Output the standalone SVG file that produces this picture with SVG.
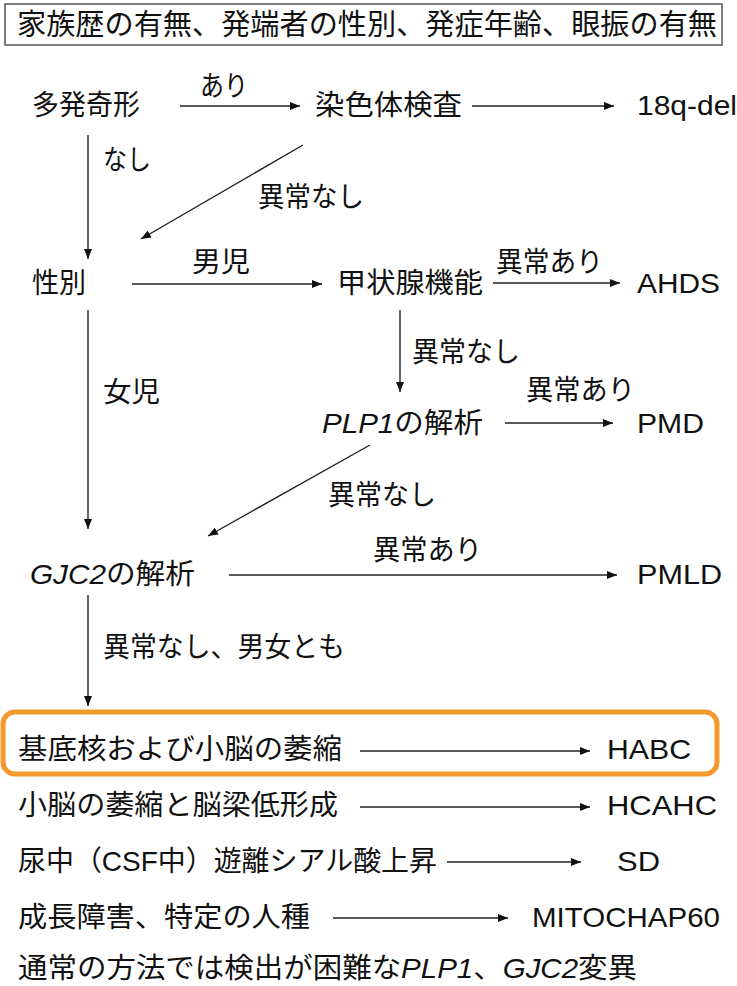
<svg xmlns="http://www.w3.org/2000/svg" width="737" height="986" viewBox="0 0 737 986">
<style>
text{font-family:"Liberation Sans","Noto Sans CJK JP",sans-serif;font-size:28px;fill:#111}
.it{font-style:italic}
.c{stroke:#222;stroke-width:1.4;fill:none;marker-end:url(#ah)}
</style>
<defs>
<marker id="ah" viewBox="0 0 10 8" refX="10" refY="4" markerWidth="10" markerHeight="8" markerUnits="userSpaceOnUse" orient="auto">
<path d="M0,0 L10,4 L0,8 z" fill="#111"/>
</marker>
</defs>
<rect width="737" height="986" fill="#fff"/>
<g id="header">
<rect x="5" y="4" width="717" height="41" fill="#fff" stroke="#555" stroke-width="1.5"/>
<text x="17" y="35" textLength="700" lengthAdjust="spacingAndGlyphs" style="font-size:29px">家族歴の有無、発端者の性別、発症年齢、眼振の有無</text>
</g>
<g id="connectors">
<line class="c" x1="180" y1="106" x2="300" y2="106"/>
<line class="c" x1="472" y1="106" x2="614" y2="106"/>
<line class="c" x1="88" y1="135" x2="88" y2="259"/>
<line class="c" x1="303" y1="145" x2="141" y2="239"/>
<line class="c" x1="132" y1="284" x2="322" y2="284"/>
<line class="c" x1="493" y1="283" x2="620" y2="283"/>
<line class="c" x1="88" y1="310" x2="88" y2="529"/>
<line class="c" x1="400" y1="310" x2="400" y2="392"/>
<line class="c" x1="505" y1="423" x2="613" y2="423"/>
<line class="c" x1="370" y1="445" x2="208" y2="536"/>
<line class="c" x1="229" y1="575" x2="617" y2="575"/>
<line class="c" x1="88" y1="595" x2="88" y2="706"/>
<line class="c" x1="360" y1="751" x2="590" y2="751"/>
<line class="c" x1="360" y1="807" x2="590" y2="807"/>
<line class="c" x1="447" y1="862" x2="581" y2="862"/>
<line class="c" x1="333" y1="918" x2="508" y2="918"/>
</g>
<g id="labels">
<text x="200" y="96" textLength="48" lengthAdjust="spacingAndGlyphs">あり</text>
<text x="103" y="170" textLength="48" lengthAdjust="spacingAndGlyphs">なし</text>
<text x="258" y="207" textLength="106" lengthAdjust="spacingAndGlyphs">異常なし</text>
<text x="192" y="272" textLength="58" lengthAdjust="spacingAndGlyphs">男児</text>
<text x="496" y="272" textLength="107" lengthAdjust="spacingAndGlyphs">異常あり</text>
<text x="103" y="402" textLength="57" lengthAdjust="spacingAndGlyphs">女児</text>
<text x="412" y="362" textLength="108" lengthAdjust="spacingAndGlyphs">異常なし</text>
<text x="526" y="400" textLength="109" lengthAdjust="spacingAndGlyphs">異常あり</text>
<text x="328" y="505" textLength="108" lengthAdjust="spacingAndGlyphs">異常なし</text>
<text x="373" y="560" textLength="109" lengthAdjust="spacingAndGlyphs">異常あり</text>
<text x="103" y="657" textLength="242" lengthAdjust="spacingAndGlyphs">異常なし、男女とも</text>
</g>
<g id="n-tahatsu"><text x="32" y="115" textLength="108" lengthAdjust="spacingAndGlyphs">多発奇形</text></g>
<g id="n-senshoku"><text x="315" y="115" textLength="147" lengthAdjust="spacingAndGlyphs">染色体検査</text></g>
<g id="n-18q"><text x="637" y="115" textLength="100" lengthAdjust="spacingAndGlyphs">18q-del</text></g>
<g id="n-seibetsu"><text x="32" y="293" textLength="54" lengthAdjust="spacingAndGlyphs">性別</text></g>
<g id="n-koujousen"><text x="337" y="293" textLength="146" lengthAdjust="spacingAndGlyphs">甲状腺機能</text></g>
<g id="n-ahds"><text x="637" y="293" textLength="83" lengthAdjust="spacingAndGlyphs">AHDS</text></g>
<g id="n-plp1"><text x="322" y="433" textLength="161" lengthAdjust="spacingAndGlyphs"><tspan class="it">PLP1</tspan>の解析</text></g>
<g id="n-pmd"><text x="637" y="433" textLength="67" lengthAdjust="spacingAndGlyphs">PMD</text></g>
<g id="n-gjc2"><text x="30" y="584" textLength="165" lengthAdjust="spacingAndGlyphs"><tspan class="it">GJC2</tspan>の解析</text></g>
<g id="n-pmld"><text x="637" y="584" textLength="85" lengthAdjust="spacingAndGlyphs">PMLD</text></g>
<g id="n-habc-box">
<rect x="3" y="712" width="714" height="62" rx="12" fill="none" stroke="#F39A2C" stroke-width="5"/>
<text x="18" y="759" textLength="324" lengthAdjust="spacingAndGlyphs">基底核および小脳の萎縮</text>
</g>
<g id="n-habc"><text x="607" y="759" textLength="84" lengthAdjust="spacingAndGlyphs">HABC</text></g>
<g id="n-shounou"><text x="18" y="815" textLength="320" lengthAdjust="spacingAndGlyphs">小脳の萎縮と脳梁低形成</text></g>
<g id="n-hcahc"><text x="607" y="815" textLength="110" lengthAdjust="spacingAndGlyphs">HCAHC</text></g>
<g id="n-nyouchuu"><text x="18" y="871" textLength="419" lengthAdjust="spacingAndGlyphs">尿中（CSF中）遊離シアル酸上昇</text></g>
<g id="n-sd"><text x="617" y="871" textLength="43" lengthAdjust="spacingAndGlyphs">SD</text></g>
<g id="n-seichou"><text x="18" y="927" textLength="292" lengthAdjust="spacingAndGlyphs">成長障害、特定の人種</text></g>
<g id="n-mito"><text x="532" y="927" textLength="188" lengthAdjust="spacingAndGlyphs">MITOCHAP60</text></g>
<g id="n-tsuujou"><text x="18" y="978" textLength="619" lengthAdjust="spacingAndGlyphs">通常の方法では検出が困難な<tspan class="it">PLP1</tspan>、<tspan class="it">GJC2</tspan>変異</text></g>
</svg>
